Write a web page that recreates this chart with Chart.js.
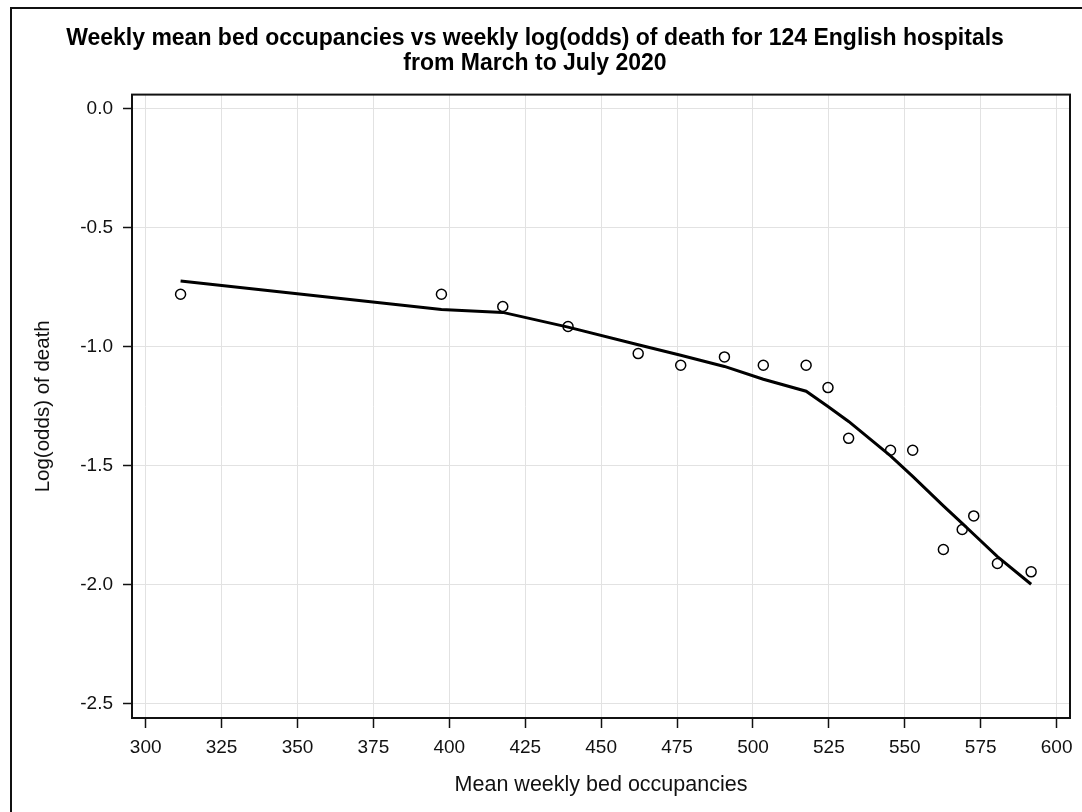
<!DOCTYPE html>
<html>
<head>
<meta charset="utf-8">
<script src="https://cdn.jsdelivr.net/npm/chart.js@4.4.1/dist/chart.umd.min.js"></script>
<style>
  html, body { margin: 0; padding: 0; background: #fff; }
  #wrap { position: relative; width: 1082px; height: 812px; overflow: hidden; }
  #frame { position: absolute; left: 10px; top: 7px; width: 1100px; height: 900px;
           border-left: 2px solid #111; border-top: 2px solid #111; }
  canvas { position: absolute; left: 0; top: 0; }
</style>
</head>
<body>
<div id="wrap">
  <div id="frame"></div>
  <canvas id="occChart" width="1082" height="812"></canvas>
</div>
<script>
// weekly means
const occupancy = [311.5, 397.4, 417.6, 439.1, 462.2, 476.2, 490.6, 503.4, 517.5,
                   524.7, 531.5, 545.3, 552.6, 562.7, 568.9, 572.7, 580.5, 591.6];
const logOdds = [-0.779, -0.779, -0.830, -0.914, -1.028, -1.077, -1.042, -1.077, -1.077,
                 -1.171, -1.384, -1.434, -1.434, -1.851, -1.767, -1.710, -1.910, -1.945];
// smoothed fit at the same x values
const fitted = [-0.723, -0.843, -0.855, -0.917, -0.991, -1.035, -1.082, -1.136, -1.186,
                -1.250, -1.313, -1.458, -1.544, -1.668, -1.741, -1.787, -1.881, -1.997];

const xTicks = [300, 325, 350, 375, 400, 425, 450, 475, 500, 525, 550, 575, 600];
const yTicks = [0, -0.5, -1.0, -1.5, -2.0, -2.5];

const font = "'Liberation Sans', Arial, sans-serif";

// box round the plot area
const plotFrame = {
  id: 'plotFrame',
  afterDraw(chart) {
    const { ctx, chartArea: a } = chart;
    ctx.save();
    ctx.strokeStyle = '#111';
    ctx.lineWidth = 2;
    ctx.strokeRect(a.left, a.top, a.right - a.left, a.bottom - a.top);
    ctx.restore();
  }
};

new Chart(document.getElementById('occChart'), {
  type: 'scatter',
  data: {
    datasets: [
      {
        label: 'Observed',
        data: occupancy.map((x, i) => ({ x: x, y: logOdds[i] })),
        pointStyle: 'circle',
        pointRadius: 5,
        pointBorderWidth: 1.5,
        pointBorderColor: '#000',
        pointBackgroundColor: 'rgba(0,0,0,0)',
        showLine: false,
        order: 1
      },
      {
        label: 'Fit',
        data: occupancy.map((x, i) => ({ x: x, y: fitted[i] })),
        showLine: true,
        borderColor: '#000',
        borderWidth: 3,
        pointRadius: 0,
        tension: 0,
        order: 2
      }
    ]
  },
  options: {
    responsive: false,
    animation: false,
    layout: { padding: { left: 0, right: 12, top: 0, bottom: 0 } },
    plugins: {
      legend: { display: false },
      tooltip: { enabled: false },
      title: {
        display: true,
        text: ['Weekly mean bed occupancies vs weekly log(odds) of death for 124 English hospitals',
               'from March to July 2020'],
        color: '#000',
        font: { family: font, size: 23, weight: 'bold', lineHeight: 1.1 },
        padding: { top: 26, bottom: 18 }
      }
    },
    scales: {
      x: {
        type: 'linear',
        min: 295.5,
        max: 604.4,
        afterBuildTicks: (s) => { s.ticks = xTicks.map(v => ({ value: v })); },
        afterFit: (s) => { s.height = 94; },
        ticks: { color: '#111', font: { family: font, size: 19 }, padding: 8,
                 callback: (v) => String(v) },
        grid: { color: '#e2e2e2', lineWidth: 1, tickColor: '#111', tickLength: 10, tickWidth: 1.5 },
        border: { display: false },
        title: { display: true, text: 'Mean weekly bed occupancies', color: '#111',
                 font: { family: font, size: 21.5 }, padding: { top: 0, bottom: 14 } }
      },
      y: {
        type: 'linear',
        min: -2.559,
        max: 0.06,
        afterBuildTicks: (s) => { s.ticks = yTicks.map(v => ({ value: v })); },
        afterFit: (s) => { s.width = 132; },
        ticks: { color: '#111', font: { family: font, size: 19 }, padding: 10,
                 callback: (v) => Number(v).toFixed(1) },
        grid: { color: '#e2e2e2', lineWidth: 1, tickColor: '#111', tickLength: 9, tickWidth: 1.5 },
        border: { display: false },
        title: { display: true, text: 'Log(odds) of death', color: '#111',
                 font: { family: font, size: 20.5 }, padding: { top: 31, bottom: 0 } }
      }
    }
  },
  plugins: [plotFrame]
});
</script>
</body>
</html>
